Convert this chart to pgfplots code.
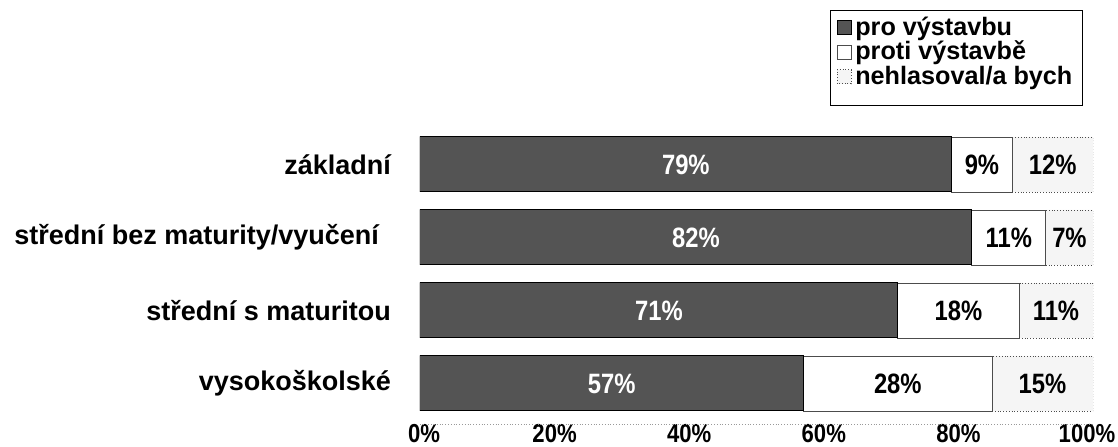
\documentclass[border=0pt]{standalone}
\usepackage{fontspec}
\setmainfont{Liberation Sans}
\newfontfamily\narrowfont{Liberation Sans}[FakeStretch=0.85]
\usepackage{pgfplots}
\pgfplotsset{compat=1.18}

\definecolor{darkbar}{gray}{0.33}
\definecolor{lightbar}{gray}{0.96}

\begin{document}
\begin{tikzpicture}
\begin{axis}[
  name=ax,
  xbar stacked,
  scale only axis,
  width=336.5pt, height=146pt,
  xmin=0, xmax=100, ymin=-0.5, ymax=3.5,
  y dir=reverse,
  bar width=27.5pt,
  /pgf/number format/assume math mode=true,
  ytick={0,1,2,3},
  yticklabels={základní, střední bez maturity/vyučení\hspace*{6pt}, střední s maturitou, vysokoškolské},
  yticklabel style={font=\fontsize{13.5}{14}\selectfont\bfseries, xshift=-11pt},
  xtick={0,20,40,60,80,100},
  xticklabels={0\%\hspace*{-4pt},20\%,40\%,60\%,80\%,\hspace*{-6pt}100\%},
  xticklabel style={font=\narrowfont\fontsize{13}{13}\selectfont\bfseries, yshift=1.5pt},
  axis line style={draw=none},
  major tick length=0pt,
  point meta=explicit,
  nodes near coords={\pgfmathprintnumber{\pgfplotspointmeta}\%},
  every node near coord/.append style={font=\narrowfont\fontsize{14}{14}\selectfont\bfseries},
  legend style={at={(1,1)}, anchor=north east, xshift=-5pt, yshift=59pt,
    draw=black, line width=0.6pt, font=\fontsize{12.6}{13}\selectfont\bfseries,
    inner xsep=3pt, inner ysep=1pt, row sep=-2.5pt},
  legend cell align=left,
  legend image code/.code={\draw[#1, line width=0.4pt] (-1pt,-3.5pt) rectangle (6pt,3.5pt);},
]
\addplot[fill=darkbar, draw=black, line width=0.5pt,
  every node near coord/.append style={text=white}]
  coordinates {(79,0) [79] (82,1) [82] (71,2) [71] (57,3) [57]};
\addplot[fill=white, draw=black!70, line width=0.4pt]
  coordinates {(9,0) [9] (11,1) [11] (18,2) [18] (28,3) [28]};
\addplot[fill=lightbar, draw=black!70, densely dotted, line width=0.4pt]
  coordinates {(12,0) [12] (7,1) [7] (11,2) [11] (15,3) [15]};
\addlegendimage{empty legend}
\legend{pro výstavbu, proti výstavbě, nehlasoval/a bych, \rule{0pt}{3pt}}
\end{axis}
\draw[black!40, densely dotted] ([yshift=-2pt]ax.south west) -- ([yshift=-2pt]ax.south east);
\pgfresetboundingbox
\useasboundingbox ([shift={(-210pt,64pt)}]ax.north west) rectangle ([shift={(12.5pt,-13.5pt)}]ax.south east);
\end{tikzpicture}
\end{document}
